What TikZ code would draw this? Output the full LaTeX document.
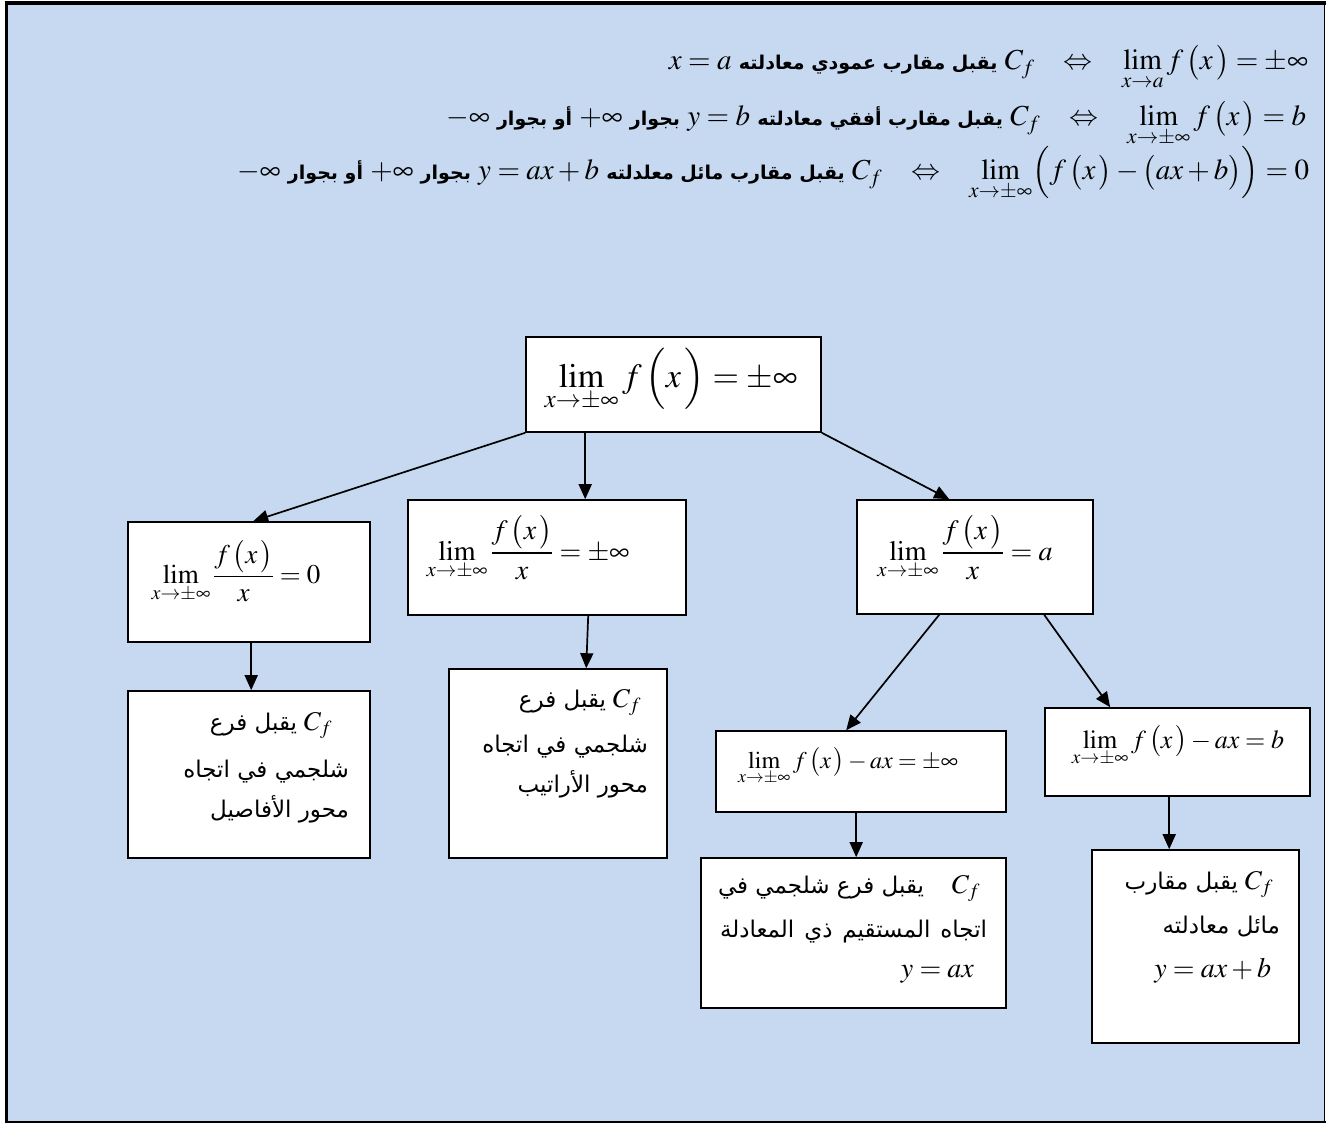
\documentclass[tikz,border=0pt]{standalone}
\usepackage{mathptmx}
\usepackage[no-math]{fontspec}
\setmainfont{Liberation Serif}
\TeXXeTstate=1
\newfontfamily\arabicfont[Script=Arabic]{DejaVu Sans}
\usetikzlibrary{arrows.meta,shadows,calc}
\definecolor{bgblue}{RGB}{198,217,241}
\newcommand{\ARB}[1]{{\arabicfont\bfseries\fontsize{19}{22}\selectfont\beginR #1\endR}}
\newcommand{\ARN}[1]{{\arabicfont\fontsize{23}{27}\selectfont\beginR #1\endR}}
\begin{document}
\begin{tikzpicture}[x=1pt,y=-1pt,
  box/.style={draw=black,line width=1.6pt,fill=white,inner sep=0pt,
    drop shadow={shadow xshift=1.3pt,shadow yshift=-1.3pt,fill=black!55,opacity=0.8}},
  arr/.style={line width=1.7pt,-{Triangle[length=15pt,width=13pt]}},
  txt/.style={inner sep=0pt,outer sep=0pt}]
\useasboundingbox (0,0) rectangle (1328,1123);
% frame
\fill[bgblue] (6,3) rectangle (1325,1122);
\draw[line width=4pt] (4.5,3.5) -- (1326,3.5);
\draw[line width=3.5pt] (6.5,2) -- (6.5,1123);
\draw[line width=1.5pt] (1324.5,3) -- (1324.5,1123);
\draw[line width=1.5pt] (5,1122.2) -- (1326,1122.2);

% top lines
\node[txt,anchor=base east] (t1) at (1308,70) {\fontsize{29}{34}\selectfont
  $x=a$\ \ARB{يقبل مقارب عمودي معادلته}\ $C_f$\quad$\Leftrightarrow$\quad$\displaystyle\lim_{x\to a} f\,\bigl(x\,\bigr)=\pm\infty$};
\node[txt,anchor=base east] (t2) at (1306,126) {\fontsize{29}{34}\selectfont
  $-\infty$\ \ARB{أو بجوار}\ $+\infty$\ \ARB{بجوار}\ $y=b$\ \ARB{يقبل مقارب أفقي معادلته}\ $C_f$\quad$\Leftrightarrow$\quad$\displaystyle\lim_{x\to\pm\infty} f\,\bigl(x\,\bigr)=b$};
\node[txt,anchor=base east] (t3) at (1309,180) {\fontsize{29}{34}\selectfont
  $-\infty$\ \ARB{أو بجوار}\ $+\infty$\ \ARB{بجوار}\ $y=ax+b$\ \ARB{يقبل مقارب مائل معلدلته}\ $C_f$\quad$\Leftrightarrow$\quad$\displaystyle\lim_{x\to\pm\infty}\Bigl(f\,\bigl(x\,\bigr)-\bigl(ax+b\bigr)\Bigr)=0$};

% boxes
\node[box,minimum width=295pt,minimum height=95pt] (root) at (673.5,384.5) {};
\node[box,minimum width=242pt,minimum height=120pt] (l1) at (249,582) {};
\node[box,minimum width=278pt,minimum height=115pt] (l2) at (547,557.5) {};
\node[box,minimum width=236pt,minimum height=114pt] (l3) at (975,557) {};
\node[box,minimum width=242pt,minimum height=167pt] (f1) at (249,774.5) {};
\node[box,minimum width=218pt,minimum height=189pt] (f2) at (558,763.5) {};
\node[box,minimum width=290pt,minimum height=81pt] (m1) at (861,771.5) {};
\node[box,minimum width=265pt,minimum height=88pt] (m2) at (1177.5,752) {};
\node[box,minimum width=305pt,minimum height=150pt] (f3) at (853.5,933) {};
\node[box,minimum width=207pt,minimum height=193pt] (f4) at (1195.5,946.5) {};

% box contents
\node[txt,anchor=base] (rootm) at (671,387) {\fontsize{34}{40}\selectfont$\displaystyle\lim_{x\to\pm\infty} f\,\Bigl(x\,\Bigr)=\pm\infty$};
\node[txt,anchor=base] (l1m) at (236,583) {\fontsize{27}{32}\selectfont$\displaystyle\lim_{x\to\pm\infty}\frac{f\,\bigl(x\,\bigr)}{x}=0$};
\node[txt,anchor=base] (l2m) at (528,560) {\fontsize{28}{32}\selectfont$\displaystyle\lim_{x\to\pm\infty}\frac{f\,\bigl(x\,\bigr)}{x}=\pm\infty$};
\node[txt,anchor=base] (l3m) at (965,560) {\fontsize{28}{32}\selectfont$\displaystyle\lim_{x\to\pm\infty}\frac{f\,\bigl(x\,\bigr)}{x}=a$};
\node[txt,anchor=base] (m1m) at (848,768) {\fontsize{24}{28}\selectfont$\displaystyle\lim_{x\to\pm\infty} f\,\bigl(x\,\bigr)-ax=\pm\infty$};
\node[txt,anchor=base] (m2m) at (1178,748) {\fontsize{26}{30}\selectfont$\displaystyle\lim_{x\to\pm\infty} f\,\bigl(x\,\bigr)-ax=b$};

% leaf texts
\node[txt,anchor=base east] (f1a) at (332,730) {\ARN{يقبل فرع}\hspace{7pt}\fontsize{27}{30}\selectfont$C_f$};
\node[txt,anchor=base east] (f1b) at (349,777) {\ARN{شلجمي في اتجاه}};
\node[txt,anchor=base east] (f1c) at (349,817) {\ARN{محور الأفاصيل}};

\node[txt,anchor=base east] (f2a) at (641,707) {\ARN{يقبل فرع}\hspace{7pt}\fontsize{27}{30}\selectfont$C_f$};
\node[txt,anchor=base east] (f2b) at (648,752) {\ARN{شلجمي في اتجاه}};
\node[txt,anchor=base east] (f2c) at (648,792) {\ARN{محور الأراتيب}};

\node[txt,anchor=base east] (f3a) at (980,893) {\hbox to 262pt{\ARN{يقبل فرع شلجمي في}\hfill\fontsize{27}{30}\selectfont$C_f$}};
\node[txt,anchor=base east] (f3b) at (987,937) {\hbox to 267pt{\ARN{المعادلة}\hfill\ARN{ذي}\hfill\ARN{المستقيم}\hfill\ARN{اتجاه}}};
\node[txt,anchor=base east] (f3c) at (974,977) {\fontsize{28}{32}\selectfont$y=ax$};

\node[txt,anchor=base east] (f4a) at (1273,889) {\ARN{يقبل مقارب}\hspace{7pt}\fontsize{27}{30}\selectfont$C_f$};
\node[txt,anchor=base east] (f4b) at (1280,933) {\ARN{مائل معادلته}};
\node[txt,anchor=base east] (f4c) at (1271,977) {\fontsize{28}{32}\selectfont$y=ax+b$};

% connectors
\draw[arr] (root.south west) -- ($(l1.north west)+(126,0)$);
\draw[arr] ($(root.south west)+(60,0)$) -- ($(l2.north west)+(178,0)$);
\draw[arr] (root.south east) -- ($(l3.north west)+(93,0)$);
\draw[arr] ($(l1.south west)+(124,0)$) -- ($(f1.north west)+(124,0)$);
\draw[arr] ($(l2.south west)+(181,0)$) -- ($(f2.north west)+(138,0)$);
\draw[arr] ($(l3.south west)+(83,0)$) -- ($(m1.north west)+(131,0)$);
\draw[arr] ($(l3.south west)+(188,0)$) -- ($(m2.north west)+(66,0)$);
\draw[arr] ($(m1.south west)+(141,0)$) -- ($(f3.north west)+(156,0)$);
\draw[arr] ($(m2.south west)+(125,0)$) -- ($(f4.north west)+(78,0)$);
\end{tikzpicture}
\end{document}
